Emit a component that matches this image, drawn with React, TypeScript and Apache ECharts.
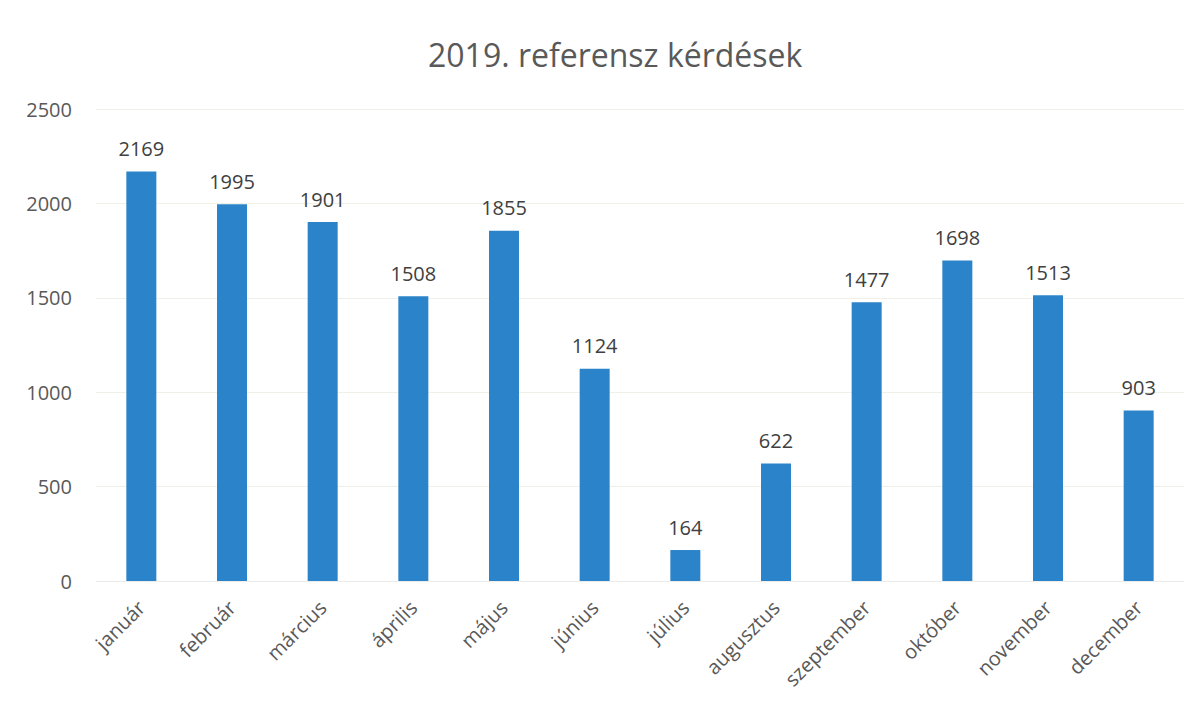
import React, { useEffect, useRef } from "react";
import * as echarts from "echarts";

const categories = ["január", "február", "március", "április", "május", "június", "július", "augusztus", "szeptember", "október", "november", "december"];
const values = [2169, 1995, 1901, 1508, 1855, 1124, 164, 622, 1477, 1698, 1513, 903];
const yTicks = [0, 500, 1000, 1500, 2000, 2500];

const FONT = "'Open Sans', 'Noto Sans', sans-serif";

export default function App() {
  const ref = useRef<HTMLDivElement>(null);
  useEffect(() => {
    if (!ref.current) return;
    const chart = echarts.init(ref.current, null, { renderer: "svg" });
    chart.setOption({
      animation: false,
      backgroundColor: "#ffffff",
      title: {
        text: "2019. referensz kérdések",
        left: 423,
        top: 33,
        textStyle: { fontFamily: FONT, fontSize: 32, fontWeight: "normal", color: "#595959" },
      },
      grid: { left: 96, right: 16, top: 109, bottom: 127, containLabel: false },
      xAxis: {
        type: "category",
        data: categories,
        axisLine: { show: true, lineStyle: { color: "#ececec" } },
        axisTick: { show: false },
        axisLabel: {
          rotate: 45,
          interval: 0,
          margin: 23,
          fontFamily: FONT,
          fontSize: 20,
          color: "#595959",
        },
      },
      yAxis: {
        type: "value",
        min: yTicks[0],
        max: yTicks[yTicks.length - 1],
        interval: 500,
        axisLine: { show: false },
        axisTick: { show: false },
        splitLine: { lineStyle: { color: "#f0f0e6", width: 1 } },
        axisLabel: {
          fontFamily: FONT,
          fontSize: 20,
          color: "#595959",
          margin: 24,
          formatter: (v: number) => String(v),
        },
      },
      series: [
        {
          type: "bar",
          data: values,
          barWidth: 30,
          itemStyle: { color: "#2b84c9" },
          label: {
            show: true,
            position: "top",
            distance: 13,
            fontFamily: FONT,
            fontSize: 20,
            color: "#404040",
          },
        },
      ],
    });
    return () => chart.dispose();
  }, []);
  return <div ref={ref} style={{ position: "fixed", left: 0, top: 0, width: 1200, height: 708 }} />;
}
